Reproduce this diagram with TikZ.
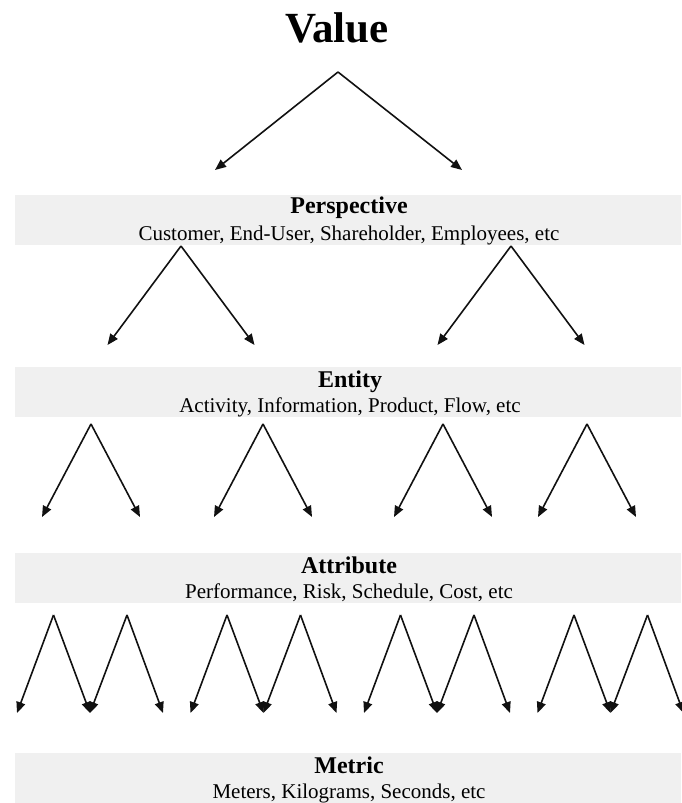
\documentclass[tikz,border=0pt]{standalone}
\usepackage{fontspec}
\setmainfont{Liberation Serif}
\usetikzlibrary{arrows.meta}
\definecolor{barfill}{HTML}{F0F0F0}
\definecolor{arrowcol}{HTML}{111111}
\tikzset{
  bar/.style={fill=barfill, draw=none, minimum width=666pt, minimum height=50pt, anchor=north west, inner sep=0pt, outer sep=0pt},
  ttl/.style={anchor=base, inner sep=0pt, font=\fontsize{24}{24}\selectfont\bfseries},
  sub/.style={anchor=base, inner sep=0pt, font=\fontsize{21}{21}\selectfont},
  arr/.style={draw=arrowcol, line width=1.6pt, -{Triangle[length=11pt,width=9pt]}},
}
\begin{document}
\begin{tikzpicture}[x=1pt,y=-1pt]
\useasboundingbox (0,0) rectangle (681,803);
% title
\node[anchor=base, inner sep=0pt, font=\fontsize{43}{43}\selectfont\bfseries] (value) at (337,42) {Value};
% bars
\node[bar] (perspbar) at (15,195) {};
\node[ttl] (persp) at (349,213) {Perspective};
\node[sub] (perspsub) at (349,240) {Customer, End-User, Shareholder, Employees, etc};
\node[bar] (entbar) at (15,367) {};
\node[ttl] (ent) at (350,387) {Entity};
\node[sub] (entsub) at (350,412) {Activity, Information, Product, Flow, etc};
\node[bar] (attrbar) at (15,553) {};
\node[ttl] (attr) at (349,573) {Attribute};
\node[sub] (attrsub) at (349,598) {Performance, Risk, Schedule, Cost, etc};
\node[bar] (metbar) at (15,753) {};
\node[ttl] (met) at (349,773) {Metric};
\node[sub] (metsub) at (349,798) {Meters, Kilograms, Seconds, etc};
% value level
\coordinate (v0) at (338,72);
\coordinate (v1) at (215,170);
\coordinate (v2) at (462,170);
\draw[arr] (v0) -- (v1);
\draw[arr] (v0) -- (v2);
% perspective level
\foreach \px [count=\i] in {181,511} {
  \coordinate (p\i) at (\px,246);
  \coordinate (p\i l) at (\px-73.5,345);
  \coordinate (p\i r) at (\px+73.5,345);
  \draw[arr] (p\i) -- (p\i l);
  \draw[arr] (p\i) -- (p\i r);
}
% entity level
\foreach \ex [count=\i] in {91,263,443,587} {
  \coordinate (e\i) at (\ex,424);
  \coordinate (e\i l) at (\ex-49,517);
  \coordinate (e\i r) at (\ex+49,517);
  \draw[arr] (e\i) -- (e\i l);
  \draw[arr] (e\i) -- (e\i r);
}
% attribute level
\foreach \ax [count=\i] in {17,190.5,364,537.5} {
  \coordinate (a\i p) at (\ax+36.5,615);
  \coordinate (a\i q) at (\ax+110,615);
  \coordinate (a\i l) at (\ax,713);
  \coordinate (a\i m) at (\ax+73,713);
  \coordinate (a\i r) at (\ax+146,713);
  \draw[arr] (a\i p) -- (a\i l);
  \draw[arr] (a\i p) -- (a\i m);
  \draw[arr] (a\i q) -- (a\i m);
  \draw[arr] (a\i q) -- (a\i r);
}
\end{tikzpicture}
\end{document}
